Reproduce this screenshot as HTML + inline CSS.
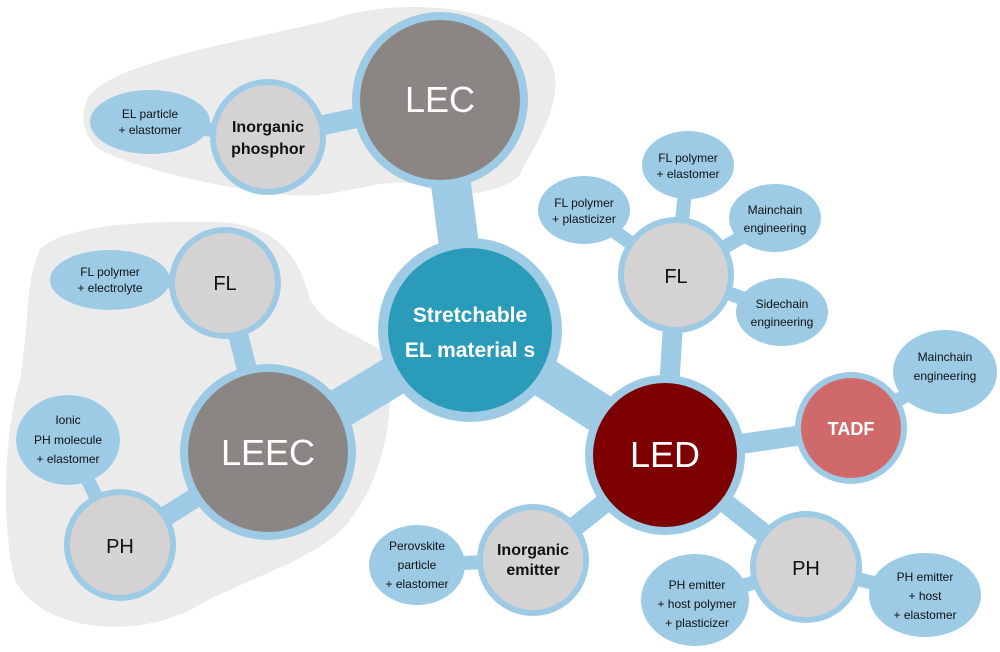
<!DOCTYPE html>
<html><head><meta charset="utf-8"><style>
html,body{margin:0;padding:0;background:#fff;}
svg{display:block;}
text{font-family:"Liberation Sans",sans-serif;text-anchor:middle;}
.s{font-size:12px;fill:#111;}
</style></head><body>
<svg width="1000" height="652" viewBox="0 0 1000 652" xmlns="http://www.w3.org/2000/svg">
<path d="M90,95 C120,60 250,40 330,20 C400,-5 520,5 550,60 C570,100 530,150 520,175 C500,195 450,200 420,185 C380,175 340,200 290,195 C230,190 140,170 100,150 C80,135 80,110 90,95 Z" fill="#ebebeb"/>
<path d="M40,250 C60,225 150,220 220,222 C280,225 300,260 310,300 C330,330 350,330 380,350 C400,380 390,470 350,520 C320,560 240,580 190,610 C130,640 40,630 15,580 C0,520 5,430 20,380 C30,320 25,280 40,250 Z" fill="#ebebeb"/>
<g stroke="#9dcbe5" stroke-linecap="round" fill="none">
<line x1="470" y1="330" x2="440" y2="100" stroke-width="40"/>
<line x1="470" y1="330" x2="268" y2="452" stroke-width="40"/>
<line x1="470" y1="330" x2="665" y2="455" stroke-width="40"/>
<line x1="440" y1="100" x2="268" y2="137" stroke-width="20"/>
<line x1="268" y1="137" x2="150" y2="122" stroke-width="14"/>
<line x1="268" y1="452" x2="225" y2="283" stroke-width="20"/>
<line x1="225" y1="283" x2="110" y2="280" stroke-width="14"/>
<line x1="268" y1="452" x2="120" y2="545" stroke-width="20"/>
<line x1="120" y1="545" x2="68" y2="440" stroke-width="14"/>
<line x1="665" y1="455" x2="676" y2="275" stroke-width="20"/>
<line x1="676" y1="275" x2="688" y2="165" stroke-width="14"/>
<line x1="676" y1="275" x2="584" y2="210" stroke-width="14"/>
<line x1="676" y1="275" x2="775" y2="218" stroke-width="14"/>
<line x1="676" y1="275" x2="782" y2="312" stroke-width="14"/>
<line x1="665" y1="455" x2="851" y2="428" stroke-width="20"/>
<line x1="851" y1="428" x2="945" y2="372" stroke-width="14"/>
<line x1="665" y1="455" x2="533" y2="560" stroke-width="20"/>
<line x1="533" y1="560" x2="417" y2="565" stroke-width="14"/>
<line x1="665" y1="455" x2="806" y2="567" stroke-width="20"/>
<line x1="806" y1="567" x2="695" y2="600" stroke-width="14"/>
<line x1="806" y1="567" x2="925" y2="595" stroke-width="14"/>
</g>
<g fill="#9dcbe5">
<ellipse cx="150" cy="122" rx="60" ry="32"/>
<ellipse cx="110" cy="280" rx="60" ry="30"/>
<ellipse cx="68" cy="440" rx="52" ry="45"/>
<ellipse cx="688" cy="165" rx="46" ry="34"/>
<ellipse cx="584" cy="210" rx="46" ry="34"/>
<ellipse cx="775" cy="218" rx="46" ry="34"/>
<ellipse cx="782" cy="312" rx="46" ry="34"/>
<ellipse cx="945" cy="372" rx="52" ry="42"/>
<ellipse cx="417" cy="565" rx="48" ry="40"/>
<ellipse cx="695" cy="600" rx="54" ry="46"/>
<ellipse cx="925" cy="595" rx="56" ry="42"/>
</g>
<g fill="#9dcbe5">
<circle cx="470" cy="330" r="92"/>
<circle cx="440" cy="100" r="88"/>
<circle cx="268" cy="452" r="88"/>
<circle cx="665" cy="455" r="80"/>
<circle cx="268" cy="137" r="58"/>
<circle cx="225" cy="283" r="56"/>
<circle cx="120" cy="545" r="56"/>
<circle cx="676" cy="275" r="58"/>
<circle cx="851" cy="428" r="56"/>
<circle cx="533" cy="560" r="56"/>
<circle cx="806" cy="567" r="56"/>
</g>
<circle cx="470" cy="330" r="82" fill="#2a9bb8"/>
<circle cx="440" cy="100" r="80" fill="#8b8684"/>
<circle cx="268" cy="452" r="80" fill="#8b8684"/>
<circle cx="665" cy="455" r="72" fill="#7c0000"/>
<circle cx="851" cy="428" r="50" fill="#d06a6a"/>
<g fill="#d4d2d2">
<circle cx="268" cy="137" r="52"/>
<circle cx="225" cy="283" r="50"/>
<circle cx="120" cy="545" r="50"/>
<circle cx="676" cy="275" r="52"/>
<circle cx="533" cy="560" r="50"/>
<circle cx="806" cy="567" r="50"/>
</g>
<text x="470" y="322" font-size="21" font-weight="bold" fill="#fff">Stretchable</text>
<text x="470" y="357" font-size="21" font-weight="bold" fill="#fff">EL material s</text>
<text x="440" y="112" font-size="36" fill="#fff">LEC</text>
<text x="268" y="465" font-size="36" fill="#fff">LEEC</text>
<text x="665" y="467" font-size="36" fill="#fff">LED</text>
<text x="851" y="435" font-size="18" font-weight="bold" fill="#fff">TADF</text>
<text x="268" y="132" font-size="16" font-weight="bold" fill="#111">Inorganic</text>
<text x="268" y="154" font-size="16" font-weight="bold" fill="#111">phosphor</text>
<text x="225" y="290" font-size="20" fill="#111">FL</text>
<text x="120" y="553" font-size="20" fill="#111">PH</text>
<text x="676" y="283" font-size="20" fill="#111">FL</text>
<text x="806" y="575" font-size="20" fill="#111">PH</text>
<text x="533" y="555" font-size="16" font-weight="bold" fill="#111">Inorganic</text>
<text x="533" y="575" font-size="16" font-weight="bold" fill="#111">emitter</text>
<g class="s">
<text x="150" y="118">EL particle</text><text x="150" y="134">+ elastomer</text>
<text x="110" y="276">FL polymer</text><text x="110" y="292">+ electrolyte</text>
<text x="68" y="424">Ionic</text><text x="68" y="444">PH molecule</text><text x="68" y="463">+ elastomer</text>
<text x="688" y="162">FL polymer</text><text x="688" y="178">+ elastomer</text>
<text x="584" y="207">FL polymer</text><text x="584" y="223">+ plasticizer</text>
<text x="775" y="214">Mainchain</text><text x="775" y="232">engineering</text>
<text x="782" y="308">Sidechain</text><text x="782" y="326">engineering</text>
<text x="945" y="361">Mainchain</text><text x="945" y="380">engineering</text>
<text x="417" y="550">Perovskite</text><text x="417" y="569">particle</text><text x="417" y="588">+ elastomer</text>
<text x="697" y="589">PH emitter</text><text x="697" y="608">+ host polymer</text><text x="697" y="627">+ plasticizer</text>
<text x="925" y="581">PH emitter</text><text x="925" y="600">+ host</text><text x="925" y="619">+ elastomer</text>
</g>
</svg>
</body></html>
